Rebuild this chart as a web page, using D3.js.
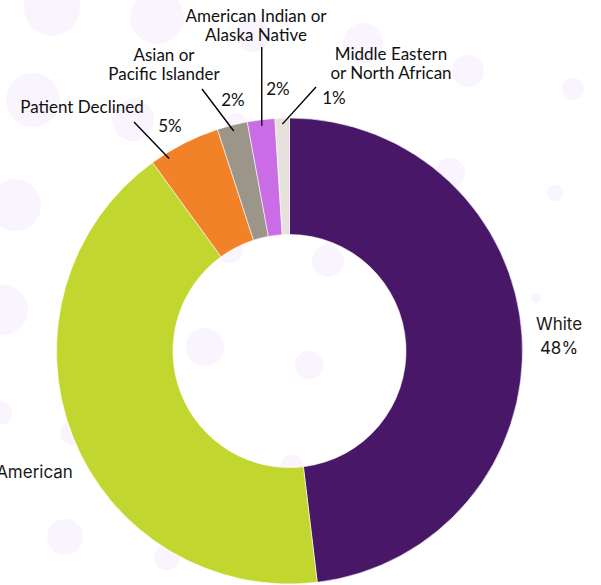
<!DOCTYPE html>
<html>
<head>
<meta charset="utf-8">
<script src="https://cdn.jsdelivr.net/npm/d3@7"></script>
<style>
  html, body { margin: 0; padding: 0; background: #fff; }
  svg { display: block; }
  .lbl { font-family: Lato, "Open Sans", sans-serif; font-size: 17px; fill: #111; }
  .lbl2 { font-family: Inter, Lato, sans-serif; font-size: 17px; fill: #1a1a1a; }
  .leader { stroke: #000; stroke-width: 1.4; fill: none; }
</style>
</head>
<body>
<svg id="donut"></svg>
<script>
/* DATA */
var categories = ["White", "Black or African American", "Patient Declined",
  "Asian or Pacific Islander", "American Indian or Alaska Native",
  "Middle Eastern or North African"];
var shares = [48.1, 41.9, 5.0, 2.1, 1.9, 1.0];
var pctLabels = ["48%", "42%", "5%", "2%", "2%", "1%"];
var colors = ["#481768", "#c1d72f", "#f28227", "#9b958a", "#c96ce6", "#e6e1db"];

// faint decorative bubbles behind the chart [cx, cy, r]
var bubbles = [
  [52, 8, 28], [157, 17, 27], [33, 100, 27], [133, 120, 21], [253, 35, 17],
  [237, 125, 12], [15, 205, 26], [3, 310, 25], [0, 413, 12], [72, 433, 12],
  [65, 537, 18], [167, 557, 13], [205, 347, 19], [230, 250, 13], [328, 261, 16],
  [309, 365, 14], [292, 467, 12], [363, 43, 20], [468, 71, 16], [573, 89, 11],
  [450, 173, 15], [555, 193, 8], [536, 298, 5]
];

/* SETUP */
var width = 601;
var height = 585;
var cx = 289.5, cy = 351;
var outerR = 233, innerR = 116.5;

// label layout: name lines, their anchor, pct position, leader start, where on slice the leader ends
var labelLayout = [
  { lines: ["White"], x: 559, y: 330, pct: [559, 354], anchor: "middle", big: true },
  { lines: ["Black or African American"], x: -32, y: 478, pct: [-32, 502], anchor: "middle", big: true },
  { lines: ["Patient Declined"], x: 82, y: 113, pct: [170, 132], anchor: "middle", from: [134, 122], at: 0.22 },
  { lines: ["Asian or", "Pacific Islander"], x: 164, y: 61, pct: [233, 106], anchor: "middle", from: [202, 89], at: 0.5 },
  { lines: ["American Indian or", "Alaska Native"], x: 256, y: 22, pct: [278, 95], anchor: "middle", from: [258, 47], at: 0.5, vertical: true },
  { lines: ["Middle Eastern", "or North African"], x: 391, y: 60, pct: [334, 104], anchor: "middle", from: [316, 87], at: 0.5 }
];

var svg = d3.select("svg#donut")
  .attr("width", width)
  .attr("height", height);

svg.append("rect").attr("width", width).attr("height", height).attr("fill", "#fff");

svg.append("g").attr("id", "bubbles")
  .selectAll("circle")
  .data(bubbles)
  .enter()
  .append("circle")
  .attr("cx", d => d[0])
  .attr("cy", d => d[1])
  .attr("r", d => d[2])
  .attr("fill", "#f9f4fd");

/* DRAW DONUT */
var pie = d3.pie()
  .sort(null)
  .value(d => d.value);

var arcs = pie(categories.map((c, i) => ({ name: c, value: shares[i], i: i })));

var arc = d3.arc()
  .innerRadius(innerR)
  .outerRadius(outerR);

var plot = svg.append("g")
  .attr("transform", translate(cx, cy));

plot.selectAll("path.slice")
  .data(arcs)
  .enter()
  .append("path")
  .attr("class", "slice")
  .attr("d", arc)
  .attr("fill", d => colors[d.data.i])
  .attr("stroke", "#fff")
  .attr("stroke-width", 0.6);

/* LABELS */
var labels = svg.append("g").attr("id", "labels");

arcs.forEach(function(d, i) {
  var L = labelLayout[i];
  var cls = L.big ? "lbl2" : "lbl";
  var lh = L.big ? 24 : 19;

  var t = labels.append("text")
    .attr("class", cls)
    .attr("text-anchor", L.anchor);
  L.lines.forEach(function(line, k) {
    t.append("tspan").attr("x", L.x).attr("y", L.y + k * lh).text(line);
  });

  labels.append("text")
    .attr("class", cls)
    .attr("text-anchor", "middle")
    .attr("x", L.pct[0])
    .attr("y", L.pct[1])
    .text(pctLabels[i]);

  if (L.from) {
    var a = d.startAngle + (d.endAngle - d.startAngle) * L.at;
    var r = outerR - 6;
    var ex = cx + r * Math.sin(a);
    var ey = cy - r * Math.cos(a);
    var sx = L.vertical ? ex : L.from[0];
    labels.append("line")
      .attr("class", "leader")
      .attr("x1", sx).attr("y1", L.from[1])
      .attr("x2", ex).attr("y2", ey);
  }
});

/* HELPER FUNCTION */
function translate(x, y) {
  return 'translate(' + String(x) + ',' + String(y) + ')';
}
</script>
</body>
</html>
